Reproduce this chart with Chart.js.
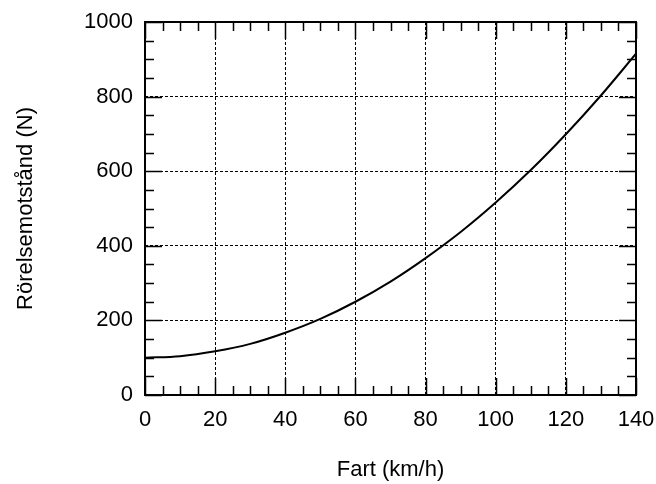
<!DOCTYPE html>
<html>
<head>
<meta charset="utf-8">
<script src="https://cdn.jsdelivr.net/npm/chart.js@4"></script>
<style>
  html, body { margin: 0; padding: 0; background: #fff; }
  #wrap { width: 656px; height: 484px; }
</style>
</head>
<body>
<div id="wrap"><canvas id="myChart" width="656" height="484"></canvas></div>
<script>
const speeds = [0, 10, 20, 30, 40, 50, 60, 70, 80, 90, 100, 110, 120, 130, 140];
const resistance = [100, 104, 117, 137, 167, 204, 250, 304, 367, 437, 516, 603, 699, 803, 915];
const xTicks = [0, 20, 40, 60, 80, 100, 120, 140];
const yTicks = [0, 200, 400, 600, 800, 1000];

const FONT = "'Liberation Sans', Arial, Helvetica, sans-serif";

// ram + inåtriktade tickmarkeringar på alla fyra sidor
const frameTicks = {
    id: 'frameTicks',
    afterDraw(chart) {
        const { ctx, chartArea: a, scales: { x, y } } = chart;
        ctx.save();
        ctx.strokeStyle = '#000';
        ctx.lineWidth = 1.5;
        ctx.beginPath();
        for (let v = 0; v <= 140; v += 5) {
            const px = Math.round(x.getPixelForValue(v)) + 0.5;
            const len = v % 20 === 0 ? 17 : 9;
            ctx.moveTo(px, a.bottom); ctx.lineTo(px, a.bottom - len);
            ctx.moveTo(px, a.top); ctx.lineTo(px, a.top + len);
        }
        for (let v = 0; v <= 1000; v += 50) {
            const py = Math.round(y.getPixelForValue(v)) + 0.5;
            const len = v % 200 === 0 ? 17 : 9;
            ctx.moveTo(a.left, py); ctx.lineTo(a.left + len, py);
            ctx.moveTo(a.right, py); ctx.lineTo(a.right - len, py);
        }
        ctx.stroke();
        ctx.lineWidth = 2;
        ctx.strokeRect(a.left, a.top, a.right - a.left, a.bottom - a.top);
        ctx.restore();
    }
};

const ctx = document.getElementById('myChart').getContext('2d');
new Chart(ctx, {
    type: 'line',
    data: {
        datasets: [{
            data: speeds.map((s, i) => ({ x: s, y: resistance[i] })),
            borderColor: '#000',
            borderWidth: 2,
            pointRadius: 0,
            cubicInterpolationMode: 'monotone',
            fill: false
        }]
    },
    options: {
        responsive: false,
        animation: false,
        layout: { padding: { left: 0, right: 20, top: 22, bottom: 0 } },
        plugins: { legend: { display: false }, tooltip: { enabled: false } },
        scales: {
            x: {
                type: 'linear',
                min: 0, max: 140,
                afterBuildTicks: s => { s.ticks = xTicks.map(v => ({ value: v })); },
                afterFit: s => { s.height = 89; s.paddingLeft = 0; s.paddingRight = 0; },
                ticks: {
                    color: '#000', padding: 12, font: { family: FONT, size: 22 }, maxRotation: 0,
                    callback: v => String(v)
                },
                grid: { color: '#000', lineWidth: 1, drawTicks: false },
                border: { display: false, dash: [3, 2] },
                title: {
                    display: true, text: 'Fart (km/h)', color: '#000',
                    font: { family: FONT, size: 22 }, padding: { top: 0, bottom: 1 }
                }
            },
            y: {
                type: 'linear',
                min: 0, max: 1000,
                afterBuildTicks: s => { s.ticks = yTicks.map(v => ({ value: v })); },
                afterFit: s => { s.width = 145; s.paddingTop = 0; s.paddingBottom = 0; },
                ticks: {
                    color: '#000', padding: 12, font: { family: FONT, size: 22 },
                    callback: v => String(v)
                },
                grid: { color: '#000', lineWidth: 1, drawTicks: false },
                border: { display: false, dash: [3, 2] },
                title: {
                    display: true, text: 'Rörelsemotstånd (N)', color: '#000',
                    font: { family: FONT, size: 22 }, padding: { top: 13, bottom: 0 }
                }
            }
        }
    },
    plugins: [frameTicks]
});
</script>
</body>
</html>
